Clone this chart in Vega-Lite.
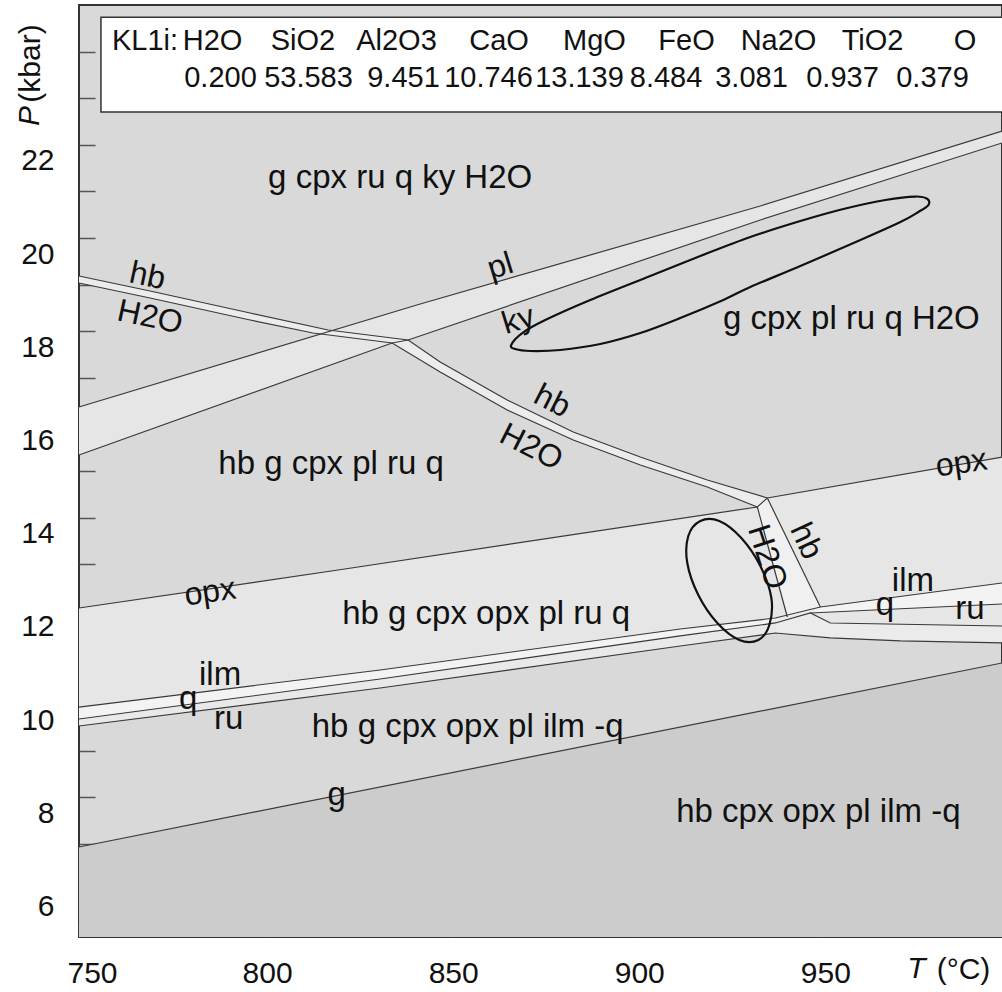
{
  "$schema": "https://vega.github.io/schema/vega-lite/v6.json",
  "width": 923,
  "height": 932,
  "autosize": {"type": "none"},
  "padding": {"left": 79, "top": 5, "right": 0, "bottom": 55},
  "background": "white",
  "config": {
    "view": {"fill": "#d9d9d9", "stroke": "#333333", "strokeWidth": 2},
    "font": "Liberation Sans",
    "text": {"font": "Liberation Sans", "fill": "#111111"}
  },
  "datasets": {
    "polys": [
      {"r": "gout", "i": 0, "t": 750, "p": 6.931},
      {"r": "gout", "i": 1, "t": 998, "p": 10.88},
      {"r": "gout", "i": 2, "t": 998, "p": 5},
      {"r": "gout", "i": 3, "t": 750, "p": 5},
      {"r": "plband", "i": 0, "t": 750, "p": 16.374},
      {"r": "plband", "i": 1, "t": 841.67, "p": 18.584},
      {"r": "plband", "i": 2, "t": 933.06, "p": 20.687},
      {"r": "plband", "i": 3, "t": 998, "p": 22.296},
      {"r": "plband", "i": 4, "t": 998, "p": 22.039},
      {"r": "plband", "i": 5, "t": 933.06, "p": 20.386},
      {"r": "plband", "i": 6, "t": 838.44, "p": 17.811},
      {"r": "plband", "i": 7, "t": 834.14, "p": 17.747},
      {"r": "plband", "i": 8, "t": 750, "p": 15.343},
      {"r": "opxfield", "i": 0, "t": 750, "p": 12.06},
      {"r": "opxfield", "i": 1, "t": 819.62, "p": 12.876},
      {"r": "opxfield", "i": 2, "t": 932.26, "p": 14.228},
      {"r": "opxfield", "i": 3, "t": 934.95, "p": 14.421},
      {"r": "opxfield", "i": 4, "t": 998, "p": 15.3},
      {"r": "opxfield", "i": 5, "t": 998, "p": 12.597},
      {"r": "opxfield", "i": 6, "t": 949.2, "p": 12.082},
      {"r": "opxfield", "i": 7, "t": 937.1, "p": 11.846},
      {"r": "opxfield", "i": 8, "t": 911.56, "p": 11.61},
      {"r": "opxfield", "i": 9, "t": 830.91, "p": 10.73},
      {"r": "opxfield", "i": 10, "t": 750, "p": 9.934},
      {"r": "ilmq", "i": 0, "t": 750, "p": 9.934},
      {"r": "ilmq", "i": 1, "t": 830.91, "p": 10.73},
      {"r": "ilmq", "i": 2, "t": 911.56, "p": 11.61},
      {"r": "ilmq", "i": 3, "t": 937.1, "p": 11.846},
      {"r": "ilmq", "i": 4, "t": 937.1, "p": 11.739},
      {"r": "ilmq", "i": 5, "t": 911.56, "p": 11.46},
      {"r": "ilmq", "i": 6, "t": 830.91, "p": 10.536},
      {"r": "ilmq", "i": 7, "t": 750, "p": 9.678},
      {"r": "qru", "i": 0, "t": 750, "p": 9.678},
      {"r": "qru", "i": 1, "t": 830.91, "p": 10.536},
      {"r": "qru", "i": 2, "t": 911.56, "p": 11.46},
      {"r": "qru", "i": 3, "t": 937.1, "p": 11.739},
      {"r": "qru", "i": 4, "t": 937.1, "p": 11.524},
      {"r": "qru", "i": 5, "t": 911.56, "p": 11.245},
      {"r": "qru", "i": 6, "t": 830.91, "p": 10.343},
      {"r": "qru", "i": 7, "t": 750, "p": 9.528},
      {"r": "lowR", "i": 0, "t": 937.1, "p": 11.846},
      {"r": "lowR", "i": 1, "t": 949.2, "p": 12.082},
      {"r": "lowR", "i": 2, "t": 946.51, "p": 11.953},
      {"r": "lowR", "i": 3, "t": 951.88, "p": 11.738},
      {"r": "lowR", "i": 4, "t": 998, "p": 11.674},
      {"r": "lowR", "i": 5, "t": 998, "p": 11.31},
      {"r": "lowR", "i": 6, "t": 970.7, "p": 11.353},
      {"r": "lowR", "i": 7, "t": 951.88, "p": 11.417},
      {"r": "lowR", "i": 8, "t": 937.1, "p": 11.524},
      {"r": "ilmqR", "i": 0, "t": 949.2, "p": 12.082},
      {"r": "ilmqR", "i": 1, "t": 998, "p": 12.597},
      {"r": "ilmqR", "i": 2, "t": 998, "p": 12.146},
      {"r": "ilmqR", "i": 3, "t": 946.51, "p": 11.953},
      {"r": "qruR", "i": 0, "t": 946.51, "p": 11.953},
      {"r": "qruR", "i": 1, "t": 998, "p": 12.146},
      {"r": "qruR", "i": 2, "t": 998, "p": 11.674},
      {"r": "qruR", "i": 3, "t": 951.88, "p": 11.738},
      {"r": "hbband", "i": 0, "t": 750, "p": 19.185},
      {"r": "hbband", "i": 1, "t": 769.09, "p": 18.863},
      {"r": "hbband", "i": 2, "t": 795.97, "p": 18.391},
      {"r": "hbband", "i": 3, "t": 816.94, "p": 18.026},
      {"r": "hbband", "i": 4, "t": 838.44, "p": 17.811},
      {"r": "hbband", "i": 5, "t": 847.04, "p": 17.339},
      {"r": "hbband", "i": 6, "t": 865.05, "p": 16.524},
      {"r": "hbband", "i": 7, "t": 882.8, "p": 15.837},
      {"r": "hbband", "i": 8, "t": 900.81, "p": 15.3},
      {"r": "hbband", "i": 9, "t": 918.82, "p": 14.807},
      {"r": "hbband", "i": 10, "t": 934.95, "p": 14.421},
      {"r": "hbband", "i": 11, "t": 932.26, "p": 14.228},
      {"r": "hbband", "i": 12, "t": 918.82, "p": 14.657},
      {"r": "hbband", "i": 13, "t": 900.81, "p": 15.129},
      {"r": "hbband", "i": 14, "t": 882.8, "p": 15.665},
      {"r": "hbband", "i": 15, "t": 865.05, "p": 16.309},
      {"r": "hbband", "i": 16, "t": 847.04, "p": 17.125},
      {"r": "hbband", "i": 17, "t": 834.14, "p": 17.747},
      {"r": "hbband", "i": 18, "t": 812.9, "p": 17.961},
      {"r": "hbband", "i": 19, "t": 795.97, "p": 18.24},
      {"r": "hbband", "i": 20, "t": 769.09, "p": 18.713},
      {"r": "hbband", "i": 21, "t": 750, "p": 19.034},
      {"r": "hbvband", "i": 0, "t": 932.26, "p": 14.228},
      {"r": "hbvband", "i": 1, "t": 934.95, "p": 14.421},
      {"r": "hbvband", "i": 2, "t": 949.2, "p": 12.082},
      {"r": "hbvband", "i": 3, "t": 940.32, "p": 11.867}
    ],
    "bounds": [
      {"id": "pl", "i": 0, "t": 750, "p": 16.374},
      {"id": "pl", "i": 1, "t": 841.67, "p": 18.584},
      {"id": "pl", "i": 2, "t": 933.06, "p": 20.687},
      {"id": "pl", "i": 3, "t": 998, "p": 22.296},
      {"id": "ky", "i": 0, "t": 750, "p": 15.343},
      {"id": "ky", "i": 1, "t": 834.14, "p": 17.747},
      {"id": "ky", "i": 2, "t": 838.44, "p": 17.811},
      {"id": "ky", "i": 3, "t": 933.06, "p": 20.386},
      {"id": "ky", "i": 4, "t": 998, "p": 22.039},
      {"id": "hb", "i": 0, "t": 750, "p": 19.185},
      {"id": "hb", "i": 1, "t": 769.09, "p": 18.863},
      {"id": "hb", "i": 2, "t": 795.97, "p": 18.391},
      {"id": "hb", "i": 3, "t": 816.94, "p": 18.026},
      {"id": "hb", "i": 4, "t": 838.44, "p": 17.811},
      {"id": "hb", "i": 5, "t": 847.04, "p": 17.339},
      {"id": "hb", "i": 6, "t": 865.05, "p": 16.524},
      {"id": "hb", "i": 7, "t": 882.8, "p": 15.837},
      {"id": "hb", "i": 8, "t": 900.81, "p": 15.3},
      {"id": "hb", "i": 9, "t": 918.82, "p": 14.807},
      {"id": "hb", "i": 10, "t": 934.95, "p": 14.421},
      {"id": "h2o", "i": 0, "t": 750, "p": 19.034},
      {"id": "h2o", "i": 1, "t": 769.09, "p": 18.713},
      {"id": "h2o", "i": 2, "t": 795.97, "p": 18.24},
      {"id": "h2o", "i": 3, "t": 812.9, "p": 17.961},
      {"id": "h2o", "i": 4, "t": 834.14, "p": 17.747},
      {"id": "h2o", "i": 5, "t": 847.04, "p": 17.125},
      {"id": "h2o", "i": 6, "t": 865.05, "p": 16.309},
      {"id": "h2o", "i": 7, "t": 882.8, "p": 15.665},
      {"id": "h2o", "i": 8, "t": 900.81, "p": 15.129},
      {"id": "h2o", "i": 9, "t": 918.82, "p": 14.657},
      {"id": "h2o", "i": 10, "t": 932.26, "p": 14.228},
      {"id": "opx", "i": 0, "t": 750, "p": 12.06},
      {"id": "opx", "i": 1, "t": 819.62, "p": 12.876},
      {"id": "opx", "i": 2, "t": 932.26, "p": 14.228},
      {"id": "opx", "i": 3, "t": 934.95, "p": 14.421},
      {"id": "opx", "i": 4, "t": 998, "p": 15.3},
      {"id": "vh2o", "i": 0, "t": 932.26, "p": 14.228},
      {"id": "vh2o", "i": 1, "t": 940.32, "p": 11.867},
      {"id": "vhb", "i": 0, "t": 934.95, "p": 14.421},
      {"id": "vhb", "i": 1, "t": 949.2, "p": 12.082},
      {"id": "ilm", "i": 0, "t": 750, "p": 9.934},
      {"id": "ilm", "i": 1, "t": 830.91, "p": 10.73},
      {"id": "ilm", "i": 2, "t": 911.56, "p": 11.61},
      {"id": "ilm", "i": 3, "t": 937.1, "p": 11.846},
      {"id": "ilm", "i": 4, "t": 949.2, "p": 12.082},
      {"id": "ilm", "i": 5, "t": 998, "p": 12.597},
      {"id": "q", "i": 0, "t": 750, "p": 9.678},
      {"id": "q", "i": 1, "t": 830.91, "p": 10.536},
      {"id": "q", "i": 2, "t": 911.56, "p": 11.46},
      {"id": "q", "i": 3, "t": 937.1, "p": 11.739},
      {"id": "q", "i": 4, "t": 946.51, "p": 11.953},
      {"id": "q", "i": 5, "t": 951.88, "p": 11.738},
      {"id": "q", "i": 6, "t": 998, "p": 11.674},
      {"id": "ru", "i": 0, "t": 750, "p": 9.528},
      {"id": "ru", "i": 1, "t": 830.91, "p": 10.343},
      {"id": "ru", "i": 2, "t": 911.56, "p": 11.245},
      {"id": "ru", "i": 3, "t": 937.1, "p": 11.524},
      {"id": "ru", "i": 4, "t": 951.88, "p": 11.417},
      {"id": "ru", "i": 5, "t": 970.7, "p": 11.353},
      {"id": "ru", "i": 6, "t": 998, "p": 11.31},
      {"id": "qR", "i": 0, "t": 946.51, "p": 11.953},
      {"id": "qR", "i": 1, "t": 998, "p": 12.146},
      {"id": "g", "i": 0, "t": 750, "p": 6.931},
      {"id": "g", "i": 1, "t": 998, "p": 10.88}
    ],
    "ells": [
      {"id": "e1", "i": 0, "t": 866.13, "p": 17.704},
      {"id": "e1", "i": 1, "t": 869.09, "p": 17.961},
      {"id": "e1", "i": 2, "t": 875.27, "p": 18.24},
      {"id": "e1", "i": 3, "t": 887.37, "p": 18.67},
      {"id": "e1", "i": 4, "t": 903.49, "p": 19.185},
      {"id": "e1", "i": 5, "t": 916.94, "p": 19.613},
      {"id": "e1", "i": 6, "t": 930.38, "p": 20.021},
      {"id": "e1", "i": 7, "t": 943.82, "p": 20.364},
      {"id": "e1", "i": 8, "t": 955.38, "p": 20.622},
      {"id": "e1", "i": 9, "t": 966.67, "p": 20.815},
      {"id": "e1", "i": 10, "t": 974.73, "p": 20.89},
      {"id": "e1", "i": 11, "t": 977.96, "p": 20.837},
      {"id": "e1", "i": 12, "t": 978.22, "p": 20.708},
      {"id": "e1", "i": 13, "t": 975.54, "p": 20.558},
      {"id": "e1", "i": 14, "t": 970.7, "p": 20.343},
      {"id": "e1", "i": 15, "t": 959.95, "p": 19.957},
      {"id": "e1", "i": 16, "t": 943.82, "p": 19.399},
      {"id": "e1", "i": 17, "t": 930.38, "p": 18.949},
      {"id": "e1", "i": 18, "t": 923.12, "p": 18.67},
      {"id": "e1", "i": 19, "t": 911.56, "p": 18.283},
      {"id": "e1", "i": 20, "t": 900.81, "p": 17.961},
      {"id": "e1", "i": 21, "t": 890.05, "p": 17.725},
      {"id": "e1", "i": 22, "t": 879.3, "p": 17.597},
      {"id": "e1", "i": 23, "t": 871.24, "p": 17.575},
      {"id": "e1", "i": 24, "t": 867.2, "p": 17.618},
      {"id": "e2", "i": 0, "t": 932.53, "p": 11.374},
      {"id": "e2", "i": 1, "t": 935.49, "p": 11.695},
      {"id": "e2", "i": 2, "t": 936.03, "p": 12.275},
      {"id": "e2", "i": 3, "t": 933.07, "p": 12.961},
      {"id": "e2", "i": 4, "t": 927.96, "p": 13.562},
      {"id": "e2", "i": 5, "t": 922.04, "p": 13.927},
      {"id": "e2", "i": 6, "t": 916.94, "p": 13.927},
      {"id": "e2", "i": 7, "t": 913.71, "p": 13.605},
      {"id": "e2", "i": 8, "t": 913.44, "p": 13.026},
      {"id": "e2", "i": 9, "t": 916.4, "p": 12.339},
      {"id": "e2", "i": 10, "t": 921.51, "p": 11.738},
      {"id": "e2", "i": 11, "t": 927.42, "p": 11.374}
    ],
    "labels": [
      {"g": "field", "text": "g cpx ru q ky H2O", "t": 836.29, "p": 21.073},
      {"g": "field", "text": "g cpx pl ru q H2O", "t": 957.53, "p": 18.047},
      {"g": "field", "text": "hb g cpx pl ru q", "t": 817.74, "p": 14.936},
      {"g": "field", "text": "hb g cpx opx pl ru q", "t": 859.41, "p": 11.717},
      {"g": "field", "text": "hb g cpx opx pl ilm -q", "t": 854.43, "p": 9.292},
      {"g": "field", "text": "hb cpx opx pl ilm -q", "t": 948.66, "p": 7.468},
      {"g": "field", "text": "ilm", "t": 787.9, "p": 10.408},
      {"g": "field", "text": "q", "t": 779.3, "p": 9.893},
      {"g": "field", "text": "ru", "t": 790.19, "p": 9.464},
      {"g": "field", "text": "g", "t": 819.22, "p": 7.841},
      {"g": "field", "text": "ilm", "t": 974.06, "p": 12.417},
      {"g": "field", "text": "q", "t": 966.53, "p": 11.918},
      {"g": "field", "text": "ru", "t": 989.38, "p": 11.824},
      {"g": "r12", "text": "hb", "t": 768.41, "p": 19.185},
      {"g": "r12", "text": "H2O", "t": 769.09, "p": 18.305},
      {"g": "r27", "text": "hb", "t": 877.15, "p": 16.502},
      {"g": "r27", "text": "H2O", "t": 871.51, "p": 15.515},
      {"g": "rm17", "text": "pl", "t": 863.17, "p": 19.399},
      {"g": "rm17", "text": "ky", "t": 868.01, "p": 18.24},
      {"g": "rm8", "text": "opx", "t": 785.22, "p": 12.404},
      {"g": "rm8", "text": "opx", "t": 987.1, "p": 15.172},
      {"g": "r72", "text": "H2O", "t": 934.95, "p": 13.154},
      {"g": "r65", "text": "hb", "t": 945.43, "p": 13.498},
      {"g": "hdr", "text": "KL1i:", "t": 767.73, "p": 24.034},
      {"g": "hdr", "text": "H2O", "t": 785.87, "p": 24.034},
      {"g": "hdr", "text": "SiO2", "t": 810.19, "p": 24.034},
      {"g": "hdr", "text": "Al2O3", "t": 835.31, "p": 24.034},
      {"g": "hdr", "text": "CaO", "t": 862.85, "p": 24.034},
      {"g": "hdr", "text": "MgO", "t": 888.51, "p": 24.034},
      {"g": "hdr", "text": "FeO", "t": 913.23, "p": 24.034},
      {"g": "hdr", "text": "Na2O", "t": 937.96, "p": 24.034},
      {"g": "hdr", "text": "TiO2", "t": 963.21, "p": 24.034},
      {"g": "hdr", "text": "O", "t": 988.07, "p": 24.034},
      {"g": "hdr", "text": "0.200", "t": 788.02, "p": 23.24},
      {"g": "hdr", "text": "53.583", "t": 811.67, "p": 23.24},
      {"g": "hdr", "text": "9.451", "t": 837.19, "p": 23.24},
      {"g": "hdr", "text": "10.746", "t": 860.03, "p": 23.24},
      {"g": "hdr", "text": "13.139", "t": 884.48, "p": 23.24},
      {"g": "hdr", "text": "8.484", "t": 907.73, "p": 23.24},
      {"g": "hdr", "text": "3.081", "t": 930.7, "p": 23.24},
      {"g": "hdr", "text": "0.937", "t": 955.15, "p": 23.24},
      {"g": "hdr", "text": "0.379", "t": 979.33, "p": 23.24},
      {"g": "itT", "text": "T", "t": 975.0, "p": 4.121},
      {"g": "itP", "text": "P", "t": 736.83, "p": 22.618}
    ]
  },
  "encoding": {
    "x": {
      "field": "t", "type": "quantitative",
      "scale": {"domain": [750, 998], "nice": false, "zero": false},
      "axis": {
        "values": [750, 800, 850, 900, 950],
        "domain": false, "grid": false,
        "tickSize": -14, "tickColor": "#555555", "tickWidth": 1.5,
        "labelFont": "Liberation Sans", "labelFontSize": 30, "labelColor": "#111111",
        "labelPadding": 35, "labelBaseline": "top", "labelFlush": false,
        "labelOffset": {"condition": {"test": "datum.value == 750", "value": 13}, "value": 2},
        "title": "(°C)", "titleFont": "Liberation Sans", "titleFontSize": 30, "titleFontWeight": "normal", "titleColor": "#111111",
        "titleX": 884, "titleY": 41, "titleAlign": "center", "titleBaseline": "alphabetic"
      }
    },
    "y": {
      "field": "p", "type": "quantitative",
      "scale": {"domain": [5, 25], "nice": false, "zero": false},
      "axis": {
        "values": [6, 7, 8, 9, 10, 11, 12, 13, 14, 15, 16, 17, 18, 19, 20, 21, 22, 23, 24],
        "labelExpr": "datum.value % 2 == 0 && datum.value <= 22 ? datum.label : ''",
        "domain": false, "grid": false,
        "tickSize": -16, "tickColor": "#555555", "tickWidth": 1.5,
        "labelFont": "Liberation Sans", "labelFontSize": 30, "labelColor": "#111111",
        "labelPadding": 41, "labelOffset": 16,
        "title": "(kbar)", "titleFont": "Liberation Sans", "titleFontSize": 30, "titleFontWeight": "normal", "titleColor": "#111111",
        "titleX": -49, "titleY": 58, "titleAngle": 270, "titleAlign": "center", "titleBaseline": "middle"
      }
    }
  },
  "layer": [
    {
      "data": {"name": "polys"},
      "transform": [{"filter": {"field": "r", "oneOf": ["gout", "plband", "opxfield", "ilmq", "qru", "lowR", "ilmqR", "qruR"]}}],
      "mark": {"type": "line", "strokeWidth": 0, "strokeOpacity": 0},
      "encoding": {
        "fill": {"field": "r", "type": "nominal", "legend": null,
          "scale": {"domain": ["gout", "plband", "opxfield", "ilmq", "qru", "lowR", "ilmqR", "qruR", "hbband", "hbvband"],
                    "range": ["#cccccc", "#e6e6e6", "#e6e6e6", "#f3f3f3", "#e9e9e9", "#ebebeb", "#f3f3f3", "#e6e6e6", "#ececec", "#f0f0f0"]}},
        "detail": {"field": "r"},
        "order": {"field": "i", "type": "quantitative"}
      }
    },
    {
      "data": {"name": "polys"},
      "transform": [{"filter": {"field": "r", "oneOf": ["hbband", "hbvband"]}}],
      "mark": {"type": "line", "strokeWidth": 0, "strokeOpacity": 0},
      "encoding": {
        "fill": {"field": "r", "type": "nominal", "legend": null,
          "scale": {"domain": ["gout", "plband", "opxfield", "ilmq", "qru", "lowR", "ilmqR", "qruR", "hbband", "hbvband"],
                    "range": ["#cccccc", "#e6e6e6", "#e6e6e6", "#f3f3f3", "#e9e9e9", "#ebebeb", "#f3f3f3", "#e6e6e6", "#ececec", "#f0f0f0"]}},
        "detail": {"field": "r"},
        "order": {"field": "i", "type": "quantitative"}
      }
    },
    {
      "data": {"name": "bounds"},
      "mark": {"type": "line", "stroke": "#3a3a3a", "strokeWidth": 1.2},
      "encoding": {
        "detail": {"field": "id"},
        "order": {"field": "i", "type": "quantitative"}
      }
    },
    {
      "data": {"name": "ells"},
      "mark": {"type": "line", "stroke": "#111111", "strokeWidth": 2.2, "interpolate": "cardinal-closed"},
      "encoding": {
        "detail": {"field": "id"},
        "order": {"field": "i", "type": "quantitative"}
      }
    },
    {
      "data": {"values": [{"t": 755.9, "t2": 1010, "p": 22.704, "p2": 24.736}]},
      "mark": {"type": "rect", "fill": "white", "stroke": "#333333", "strokeWidth": 1.5, "clip": true},
      "encoding": {"x2": {"field": "t2"}, "y2": {"field": "p2"}}
    },
    {
      "data": {"name": "labels"},
      "transform": [{"filter": {"field": "g", "equal": "field"}}],
      "mark": {"type": "text", "fontSize": 33, "align": "center", "baseline": "alphabetic"},
      "encoding": {"text": {"field": "text"}}
    },
    {
      "data": {"name": "labels"},
      "transform": [{"filter": {"field": "g", "equal": "hdr"}}],
      "mark": {"type": "text", "fontSize": 29, "align": "center", "baseline": "alphabetic"},
      "encoding": {"text": {"field": "text"}}
    },
    {
      "data": {"name": "labels"},
      "transform": [{"filter": {"field": "g", "equal": "r12"}}],
      "mark": {"type": "text", "fontSize": 32, "align": "center", "baseline": "middle", "angle": 12},
      "encoding": {"text": {"field": "text"}}
    },
    {
      "data": {"name": "labels"},
      "transform": [{"filter": {"field": "g", "equal": "r27"}}],
      "mark": {"type": "text", "fontSize": 32, "align": "center", "baseline": "middle", "angle": 27},
      "encoding": {"text": {"field": "text"}}
    },
    {
      "data": {"name": "labels"},
      "transform": [{"filter": {"field": "g", "equal": "rm17"}}],
      "mark": {"type": "text", "fontSize": 32, "align": "center", "baseline": "middle", "angle": 343},
      "encoding": {"text": {"field": "text"}}
    },
    {
      "data": {"name": "labels"},
      "transform": [{"filter": {"field": "g", "equal": "rm8"}}],
      "mark": {"type": "text", "fontSize": 32, "align": "center", "baseline": "middle", "angle": 352},
      "encoding": {"text": {"field": "text"}}
    },
    {
      "data": {"name": "labels"},
      "transform": [{"filter": {"field": "g", "equal": "r72"}}],
      "mark": {"type": "text", "fontSize": 32, "align": "center", "baseline": "middle", "angle": 72},
      "encoding": {"text": {"field": "text"}}
    },
    {
      "data": {"name": "labels"},
      "transform": [{"filter": {"field": "g", "equal": "r65"}}],
      "mark": {"type": "text", "fontSize": 32, "align": "center", "baseline": "middle", "angle": 65},
      "encoding": {"text": {"field": "text"}}
    },
    {
      "data": {"name": "labels"},
      "transform": [{"filter": {"field": "g", "equal": "itT"}}],
      "mark": {"type": "text", "fontSize": 30, "fontStyle": "italic", "align": "center", "baseline": "alphabetic"},
      "encoding": {"text": {"field": "text"}}
    },
    {
      "data": {"name": "labels"},
      "transform": [{"filter": {"field": "g", "equal": "itP"}}],
      "mark": {"type": "text", "fontSize": 30, "fontStyle": "italic", "align": "center", "baseline": "middle", "angle": 270},
      "encoding": {"text": {"field": "text"}}
    }
  ]
}
